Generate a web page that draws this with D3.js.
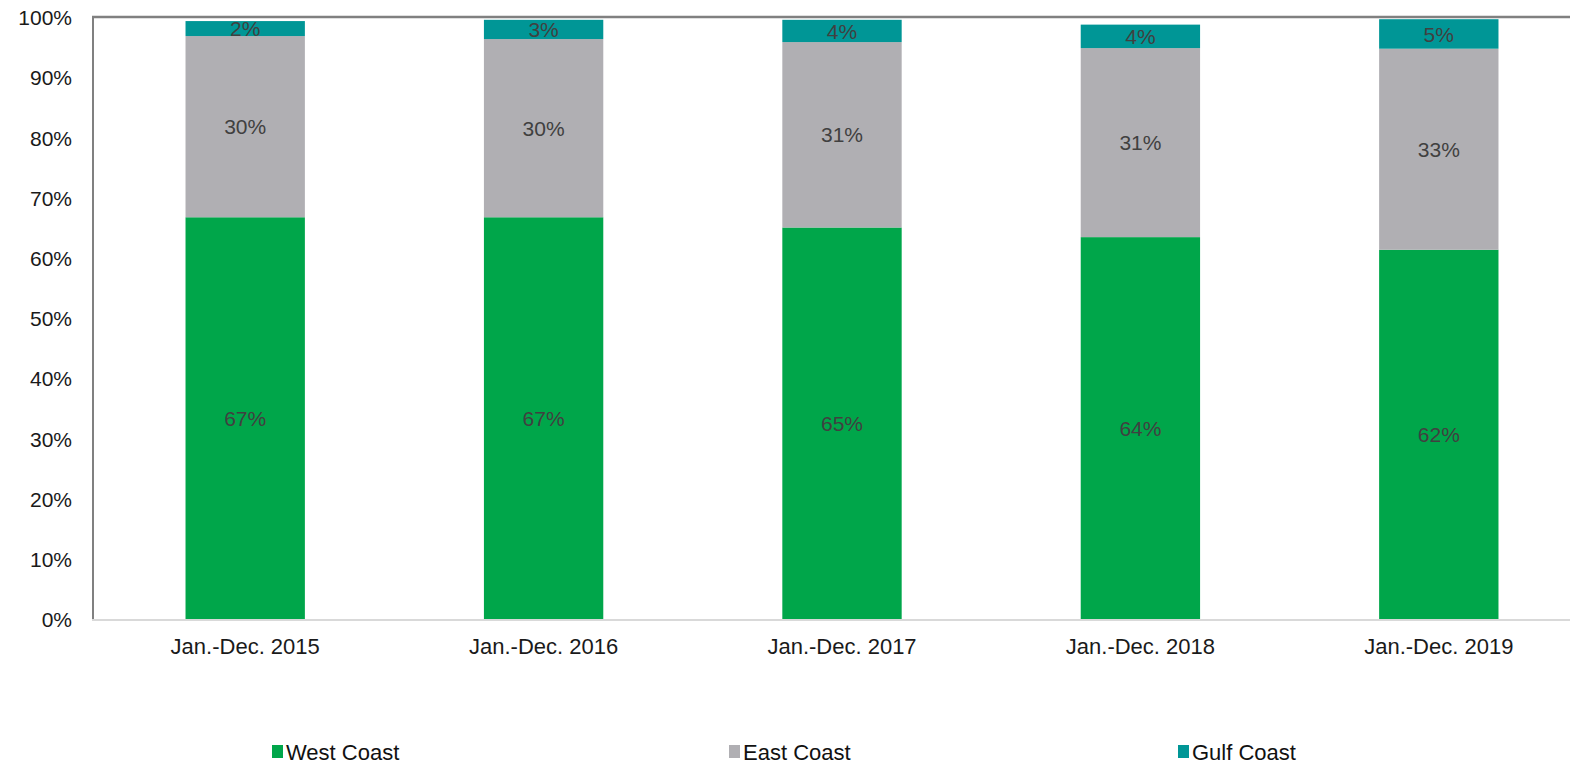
<!DOCTYPE html>
<html>
<head>
<meta charset="utf-8">
<script src="https://cdn.jsdelivr.net/npm/d3@7"></script>
<style>
  html, body { margin: 0; padding: 0; background: #fff; }
  svg { display: block; font-family: "Liberation Sans", Arial, sans-serif; }
</style>
</head>
<body>
<svg id="chart"></svg>
<script>
// data
const categories = ['Jan.-Dec. 2015', 'Jan.-Dec. 2016', 'Jan.-Dec. 2017', 'Jan.-Dec. 2018', 'Jan.-Dec. 2019'];
const westCoast = [66.9, 66.9, 65.2, 63.6, 61.5];
const eastCoast = [30.1, 29.6, 30.8, 31.4, 33.4];
const gulfCoast = [2.49, 3.2, 3.7, 3.9, 4.9];
const seriesNames = ['West Coast', 'East Coast', 'Gulf Coast'];
const yTicks = [0, 10, 20, 30, 40, 50, 60, 70, 80, 90, 100];

const colors = { 'West Coast': '#00a64a', 'East Coast': '#b0afb3', 'Gulf Coast': '#009696' };

const width = 1570;
const height = 767;

const svg = d3.select('#chart')
  .attr('width', width)
  .attr('height', height);

// build rows for the stack
const rows = categories.map((c, i) => ({
  cat: c,
  'West Coast': westCoast[i],
  'East Coast': eastCoast[i],
  'Gulf Coast': gulfCoast[i]
}));

const stacked = d3.stack().keys(seriesNames)(rows);

// plot is wider than the window on the right, like the cropped original
const x = d3.scaleBand()
  .domain(categories)
  .range([96, 1588])
  .paddingInner(0.6)
  .paddingOuter(0.3);

const y = d3.scaleLinear()
  .domain([0, 100])
  .range([620, 18]);

// bars
const layers = svg.append('g')
  .selectAll('g')
  .data(stacked)
  .enter()
  .append('g')
  .attr('fill', d => colors[d.key]);

layers.selectAll('rect')
  .data(d => d)
  .enter()
  .append('rect')
  .attr('x', d => x(d.data.cat))
  .attr('width', x.bandwidth())
  .attr('y', d => y(d[1]))
  .attr('height', d => y(d[0]) - y(d[1]));

// segment labels
layers.selectAll('text')
  .data(d => d)
  .enter()
  .append('text')
  .attr('x', d => x(d.data.cat) + x.bandwidth() / 2)
  .attr('y', d => (y(d[0]) + y(d[1])) / 2)
  .attr('dy', '0.36em')
  .attr('text-anchor', 'middle')
  .attr('font-size', '21px')
  .attr('fill', '#404040')
  .text(d => Math.round(d[1] - d[0]) + '%');

// top border line at 100%
svg.append('line')
  .attr('x1', 92)
  .attr('x2', width)
  .attr('y1', 17)
  .attr('y2', 17)
  .attr('stroke', '#808080')
  .attr('stroke-width', 2.5);

// y axis
const yAxis = svg.append('g')
  .attr('transform', 'translate(93,0)')
  .call(d3.axisLeft(y)
    .tickValues(yTicks)
    .tickSize(0)
    .tickPadding(21)
    .tickFormat(d => d + '%'));

yAxis.select('.domain')
  .attr('stroke', '#808080')
  .attr('stroke-width', 2)
  .attr('d', `M0,${y(100) - 1}V${y(0)}`);

yAxis.selectAll('text')
  .attr('font-size', '21px')
  .attr('font-family', '"Liberation Sans", Arial, sans-serif')
  .attr('fill', '#1a1a1a');

// x axis
const xAxis = svg.append('g')
  .attr('transform', `translate(0,${y(0)})`)
  .call(d3.axisBottom(x).tickSize(0).tickPadding(18));

xAxis.select('.domain')
  .attr('stroke', '#d9d9d9')
  .attr('stroke-width', 2)
  .attr('d', `M92,0H${width}`);

xAxis.selectAll('text')
  .attr('font-size', '22px')
  .attr('font-family', '"Liberation Sans", Arial, sans-serif')
  .attr('fill', '#1a1a1a');

// legend
const legendX = [272, 729, 1178];
const legend = svg.append('g')
  .selectAll('g')
  .data(seriesNames)
  .enter()
  .append('g')
  .attr('transform', (d, i) => `translate(${legendX[i]},752)`);

legend.append('rect')
  .attr('x', 0)
  .attr('y', -7)
  .attr('width', 11)
  .attr('height', 13)
  .attr('fill', d => colors[d]);

legend.append('text')
  .attr('x', 14)
  .attr('dy', '0.36em')
  .attr('font-size', '22px')
  .attr('fill', '#111')
  .text(d => d);
</script>
</body>
</html>
